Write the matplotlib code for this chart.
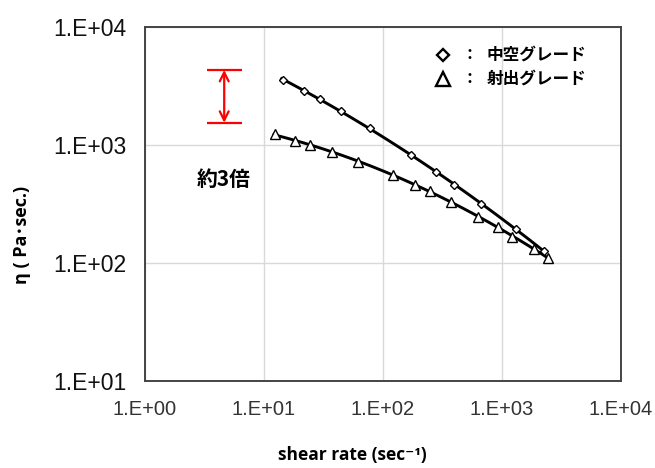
import numpy as np
import matplotlib
matplotlib.use("Agg")
import matplotlib.pyplot as plt

# ---- data ----
hollow_x = [14.4, 21.6, 29.6, 44.7, 77.8, 172, 280, 397, 662, 1312, 2254]
hollow_y = [3560, 2884, 2438, 1941, 1386, 822, 590, 461, 316, 193, 127]
inject_x = [12.4, 18.3, 24.5, 37.1, 62, 122, 186, 248, 373, 625, 931, 1222, 1867, 2448]
inject_y = [1232, 1087, 994, 877, 713, 557, 461, 408, 331, 247, 201, 167, 131, 110]
xticks = [1, 10, 100, 1000, 10000]
xtick_labels = ["1.E+00", "1.E+01", "1.E+02", "1.E+03", "1.E+04"]
yticks = [10, 100, 1000, 10000]
ytick_labels = ["1.E+01", "1.E+02", "1.E+03", "1.E+04"]
series_labels = ["中空グレード", "射出グレード"]
arrow_x = [3.3, 6.5]
arrow_mid_x = 4.63
arrow_y = [4325, 1545]
ratio_text = "約3倍"

fig = plt.figure(figsize=(6.55, 4.68), dpi=100)
ax = fig.add_axes([145/655, 1-381/468, 476/655, 354/468])
ax.set_xscale("log")
ax.set_yscale("log")
ax.set_xlim(1, 10000)
ax.set_ylim(10, 10000)
ax.minorticks_off()
ax.set_xticks(xticks)
ax.set_xticklabels(xtick_labels)
ax.set_yticks(yticks)
ax.set_yticklabels(ytick_labels)
ax.tick_params(axis="both", length=0)
ax.tick_params(axis="x", pad=14, labelsize=14.5, labelcolor="#333333")
ax.tick_params(axis="y", pad=13.5, labelsize=16.5, labelcolor="#111111")
for lab in ax.get_xticklabels() + ax.get_yticklabels():
    lab.set_family("Liberation Sans")
ax.grid(True, color="#d9d9d9", linewidth=1.0)
ax.set_axisbelow(True)
for s in ax.spines.values():
    s.set_color("#444444")
    s.set_linewidth(1.4)

# fitted trend lines (quadratic in log-log)
for xs, ys in [(hollow_x, hollow_y), (inject_x, inject_y)]:
    lx, ly = np.log10(xs), np.log10(ys)
    c = np.polyfit(lx, ly, 2)
    xx = np.linspace(lx.min() - 0.01, lx.max(), 100)
    ax.plot(10**xx, 10**np.polyval(c, xx), color="black", lw=2.1, zorder=3)

ax.plot(hollow_x, hollow_y, linestyle="none", marker="D", ms=4.2,
        mfc="white", mec="black", mew=1.0, zorder=4)
ax.plot(inject_x, inject_y, linestyle="none", marker="^", ms=6.5,
        mfc="white", mec="black", mew=1.0, zorder=4)

# red arrow annotation
for yv in arrow_y:
    ax.plot(arrow_x, [yv, yv], color="red", lw=1.6, solid_capstyle="butt")
ax.annotate("", xy=(arrow_mid_x, arrow_y[0]), xytext=(arrow_mid_x, arrow_y[1]),
            arrowprops=dict(arrowstyle="<->", color="red", lw=1.6,
                            shrinkA=0, shrinkB=0, mutation_scale=16))
ax.text(4.6, 10**(3 - (179-145)/118), ratio_text, ha="center", va="center",
        fontsize=15, fontweight="bold", family=["Noto Sans CJK JP", "DejaVu Sans"])

# legend (manual)
leg_rows = [(1 - (55-27)/354, "D", 6), (1 - (79-27)/354, "^", 9.5)]
for (yy, mk, ms), lbl in zip(leg_rows, series_labels):
    ax.plot([(443-145)/476], [yy], transform=ax.transAxes, marker=mk, ms=ms,
            mfc="white", mec="black", mew=1.7, linestyle="none", clip_on=False)
    ax.text((470-145)/476, yy, "：", transform=ax.transAxes, ha="center", va="center",
            fontsize=11.5, fontweight="bold", family=["Noto Sans CJK JP", "DejaVu Sans"])
    ax.text((487-145)/476, yy, lbl, transform=ax.transAxes, ha="left", va="center",
            fontsize=12, fontweight="bold", family=["Noto Sans CJK JP", "DejaVu Sans"])

ax.set_xlabel("shear rate (sec⁻¹)", fontsize=12.5, fontweight="bold",
              family=["Open Sans", "DejaVu Sans"])
ax.xaxis.set_label_coords((352-145)/476, (381-455)/354)
ax.xaxis.label.set_va("center")
ax.set_ylabel("η ( Pa･sec.)", fontsize=13, fontweight="bold",
              family=["Open Sans", "Noto Sans CJK JP", "DejaVu Sans"])
ax.yaxis.set_label_coords((22-145)/476, (381-235)/354)
ax.yaxis.label.set_va("center")

fig.savefig("out.png", dpi=100)
